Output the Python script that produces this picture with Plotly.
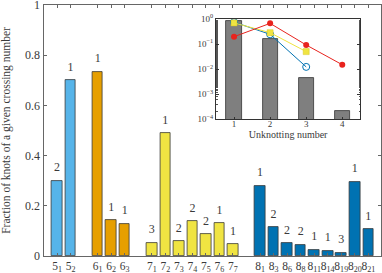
import plotly.graph_objects as go

# ---------------- data ----------------
crossing_groups = ["5", "6", "7", "8"]
group_colors = ["#56B4E9", "#E69F00", "#F0E442", "#0072B2"]
knot_indices = [
    ["1", "2"],
    ["1", "2", "3"],
    ["1", "2", "3", "4", "5", "6", "7"],
    ["1", "3", "6", "8", "11", "14", "19", "20", "21"],
]
fractions = [
    [0.30, 0.70],
    [0.733, 0.142, 0.127],
    [0.053, 0.489, 0.058, 0.138, 0.086, 0.130, 0.047],
    [0.279, 0.115, 0.050, 0.045, 0.024, 0.020, 0.013, 0.296, 0.106],
]
unknotting_numbers = [
    [2, 1],
    [1, 1, 1],
    [3, 1, 2, 2, 2, 1, 1],
    [1, 2, 2, 2, 1, 1, 3, 1, 1],
]

inset_u = [1, 2, 3, 4]
inset_total = [0.855, 0.159, 0.0044, 0.000215]
inset_red = [0.197, 0.67, 0.092, 0.015]
inset_yellow = [0.70, 0.285, 0.05]
inset_blue = [0.75, 0.245, 0.0123]
inset_ytick_vals = [1e-4, 1e-3, 1e-2, 1e-1, 1e0]
inset_ytick_text = ["10<sup>−4</sup>", "10<sup>−3</sup>", "10<sup>−2</sup>",
                    "10<sup>−1</sup>", "10<sup>0</sup>"]

FONT = "Liberation Serif"
TXT = "#3a3a3a"
AX = "#666666"

fig = go.Figure()

# slot positions: consecutive within a group, one empty slot between groups
tickvals, ticktext = [], []
pos = 1
for g, (c, col, idx, fr, un) in enumerate(zip(crossing_groups, group_colors,
                                               knot_indices, fractions,
                                               unknotting_numbers)):
    xs = []
    for i in idx:
        xs.append(pos)
        tickvals.append(pos)
        ticktext.append(f"{c}<sub>{i}</sub>")
        pos += 1
    pos += 1
    fig.add_trace(go.Bar(
        x=xs, y=fr, width=0.78,
        marker=dict(color=col, line=dict(color="#3a3a3a", width=0.8)),
        showlegend=False, xaxis="x", yaxis="y", hoverinfo="skip",
    ))
    fig.add_trace(go.Scatter(
        x=xs, y=fr, mode="markers+text", text=[str(u) for u in un],
        textposition="top center",
        marker=dict(size=9, opacity=0),
        textfont=dict(family=FONT, size=12, color=TXT),
        cliponaxis=False, showlegend=False, xaxis="x", yaxis="y",
        hoverinfo="skip",
    ))

# inset
fig.add_trace(go.Bar(
    x=inset_u, y=inset_total, width=0.42,
    marker=dict(color="#7f7f7f", line=dict(color="#333333", width=0.8)),
    showlegend=False, xaxis="x2", yaxis="y2",
))
fig.add_trace(go.Scatter(
    x=inset_u[:len(inset_blue)], y=inset_blue, mode="lines+markers",
    line=dict(color="#0072B2", width=1),
    marker=dict(symbol="circle-open", size=7, color="#0072B2", line=dict(width=1)),
    showlegend=False, xaxis="x2", yaxis="y2",
))
fig.add_trace(go.Scatter(
    x=inset_u[:len(inset_yellow)], y=inset_yellow, mode="lines+markers",
    line=dict(color="#F0E442", width=1),
    marker=dict(symbol="square", size=6, color="#F0E442",
                line=dict(color="#d8c820", width=0.5)),
    showlegend=False, xaxis="x2", yaxis="y2",
))
fig.add_trace(go.Scatter(
    x=inset_u, y=inset_red, mode="lines+markers",
    line=dict(color="#E8231E", width=1),
    marker=dict(symbol="circle", size=6, color="#E8231E"),
    showlegend=False, xaxis="x2", yaxis="y2",
))

W, H = 382, 273
fig.update_layout(
    width=W, height=H,
    margin=dict(l=0, r=0, t=0, b=0, pad=0, autoexpand=False),
    paper_bgcolor="white", plot_bgcolor="white",
    font=dict(family=FONT, color=TXT, size=12),
    bargap=0,
    xaxis=dict(
        domain=[43.5 / W, 380.5 / W], range=[0, 24.9], automargin=False,
        tickvals=tickvals, ticktext=ticktext, tickangle=0,
        ticks="inside", ticklen=3, tickcolor=AX,
        showline=True, linecolor=AX, linewidth=1, mirror="ticks",
        showgrid=False, zeroline=False, ticklabelstandoff=-1,
        ticklabeloverflow="allow",
        tickfont=dict(family=FONT, size=11.5, color=TXT),
    ),
    yaxis=dict(
        domain=[(H - 256) / H, (H - 5) / H], range=[0, 1], automargin=False,
        tickvals=[0, 0.2, 0.4, 0.6, 0.8, 1],
        ticks="inside", ticklen=3, tickcolor=AX,
        showline=True, linecolor=AX, linewidth=1, mirror="ticks",
        showgrid=False, zeroline=False, ticklabeloverflow="allow",
        tickfont=dict(family=FONT, size=12, color=TXT),
        title=dict(text="Fraction of knots of a given crossing number",
                   font=dict(family=FONT, size=11.5, color=TXT), standoff=16),
    ),
    xaxis2=dict(
        domain=[216 / W, 360.3 / W], range=[0.5, 4.5], anchor="y2",
        automargin=False,
        tickvals=inset_u, ticks="inside", ticklen=2, tickcolor="#333",
        showline=True, linecolor="#333", linewidth=1, mirror=True,
        showgrid=False, zeroline=False, ticklabelstandoff=-4,
        tickfont=dict(family=FONT, size=9, color=TXT),
        title=dict(text="Unknotting number",
                   font=dict(family=FONT, size=10, color=TXT), standoff=0),
    ),
    yaxis2=dict(
        domain=[(H - 119.3) / H, (H - 19) / H], type="log", range=[-4, 0],
        anchor="x2", automargin=False,
        tickvals=inset_ytick_vals, ticktext=inset_ytick_text,
        ticks="inside", ticklen=3, tickcolor="#333",
        minor=dict(ticks="inside", ticklen=1.5, tickcolor="#555", showgrid=False),
        showline=True, linecolor="#333", linewidth=1, mirror="allticks",
        showgrid=False, zeroline=False,
        tickfont=dict(family=FONT, size=9, color=TXT),
    ),
)

fig.write_html(
    "out.html",
    config={"displayModeBar": False},
    post_script="document.body.style.margin='0';document.body.style.padding='0';",
)
